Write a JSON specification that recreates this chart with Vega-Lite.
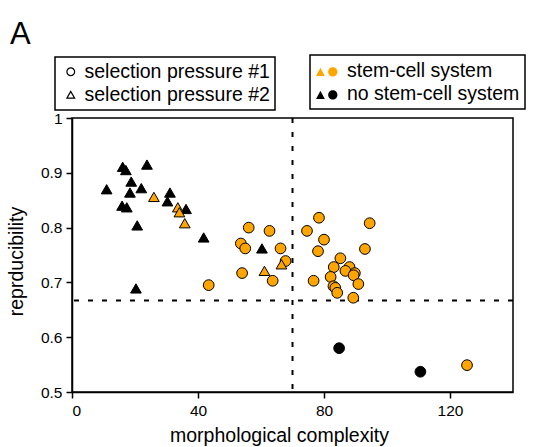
{
  "$schema": "https://vega.github.io/schema/vega-lite/v6.json",
  "width": 441,
  "height": 274,
  "autosize": {"type": "none"},
  "padding": {"left": 72, "top": 118, "right": 23, "bottom": 55},
  "background": "white",
  "config": {
    "font": "Liberation Sans",
    "view": {"stroke": "black", "strokeWidth": 1.5},
    "axis": {
      "grid": false,
      "domainColor": "black",
      "domainWidth": 1.5,
      "tickColor": "black",
      "tickWidth": 1.5,
      "tickSize": 6,
      "labelColor": "black",
      "labelFontSize": 15.5,
      "titleColor": "black",
      "titleFontSize": 19.5,
      "titleFontWeight": "normal",
      "labelPadding": 4
    },
    "legend": {
      "labelFontSize": 19.5,
      "labelColor": "black",
      "labelLimit": 400,
      "strokeColor": "black",
      "strokeWidth": 1.5,
      "padding": 5,
      "rowPadding": 2,
      "cornerRadius": 0,
      "fillColor": "white",
      "labelOffset": 9
    }
  },
  "title": {
    "text": "A",
    "fontSize": 31,
    "fontWeight": "normal",
    "font": "Liberation Sans",
    "color": "black",
    "anchor": "start",
    "frame": "group",
    "dx": -62,
    "dy": 1
  },
  "datasets": {
    "points": [
      {"complexity": 56.1, "reproducibility": 0.800, "pressure": "selection pressure #1", "system": "stem-cell system"},
      {"complexity": 62.7, "reproducibility": 0.794, "pressure": "selection pressure #1", "system": "stem-cell system"},
      {"complexity": 53.6, "reproducibility": 0.771, "pressure": "selection pressure #1", "system": "stem-cell system"},
      {"complexity": 55.0, "reproducibility": 0.762, "pressure": "selection pressure #1", "system": "stem-cell system"},
      {"complexity": 66.2, "reproducibility": 0.762, "pressure": "selection pressure #1", "system": "stem-cell system"},
      {"complexity": 67.8, "reproducibility": 0.739, "pressure": "selection pressure #1", "system": "stem-cell system"},
      {"complexity": 54.0, "reproducibility": 0.717, "pressure": "selection pressure #1", "system": "stem-cell system"},
      {"complexity": 63.7, "reproducibility": 0.703, "pressure": "selection pressure #1", "system": "stem-cell system"},
      {"complexity": 43.4, "reproducibility": 0.695, "pressure": "selection pressure #1", "system": "stem-cell system"},
      {"complexity": 78.4, "reproducibility": 0.818, "pressure": "selection pressure #1", "system": "stem-cell system"},
      {"complexity": 74.6, "reproducibility": 0.794, "pressure": "selection pressure #1", "system": "stem-cell system"},
      {"complexity": 94.5, "reproducibility": 0.808, "pressure": "selection pressure #1", "system": "stem-cell system"},
      {"complexity": 80.0, "reproducibility": 0.778, "pressure": "selection pressure #1", "system": "stem-cell system"},
      {"complexity": 78.1, "reproducibility": 0.757, "pressure": "selection pressure #1", "system": "stem-cell system"},
      {"complexity": 93.0, "reproducibility": 0.761, "pressure": "selection pressure #1", "system": "stem-cell system"},
      {"complexity": 85.2, "reproducibility": 0.744, "pressure": "selection pressure #1", "system": "stem-cell system"},
      {"complexity": 83.1, "reproducibility": 0.728, "pressure": "selection pressure #1", "system": "stem-cell system"},
      {"complexity": 88.1, "reproducibility": 0.728, "pressure": "selection pressure #1", "system": "stem-cell system"},
      {"complexity": 86.8, "reproducibility": 0.721, "pressure": "selection pressure #1", "system": "stem-cell system"},
      {"complexity": 89.8, "reproducibility": 0.717, "pressure": "selection pressure #1", "system": "stem-cell system"},
      {"complexity": 89.4, "reproducibility": 0.713, "pressure": "selection pressure #1", "system": "stem-cell system"},
      {"complexity": 82.1, "reproducibility": 0.710, "pressure": "selection pressure #1", "system": "stem-cell system"},
      {"complexity": 76.7, "reproducibility": 0.703, "pressure": "selection pressure #1", "system": "stem-cell system"},
      {"complexity": 90.9, "reproducibility": 0.697, "pressure": "selection pressure #1", "system": "stem-cell system"},
      {"complexity": 83.0, "reproducibility": 0.693, "pressure": "selection pressure #1", "system": "stem-cell system"},
      {"complexity": 83.6, "reproducibility": 0.690, "pressure": "selection pressure #1", "system": "stem-cell system"},
      {"complexity": 84.2, "reproducibility": 0.681, "pressure": "selection pressure #1", "system": "stem-cell system"},
      {"complexity": 89.3, "reproducibility": 0.672, "pressure": "selection pressure #1", "system": "stem-cell system"},
      {"complexity": 125.4, "reproducibility": 0.549, "pressure": "selection pressure #1", "system": "stem-cell system"},
      {"complexity": 84.8, "reproducibility": 0.580, "pressure": "selection pressure #1", "system": "no stem-cell system"},
      {"complexity": 110.6, "reproducibility": 0.537, "pressure": "selection pressure #1", "system": "no stem-cell system"},
      {"complexity": 16.1, "reproducibility": 0.911, "pressure": "selection pressure #2", "system": "no stem-cell system"},
      {"complexity": 17.1, "reproducibility": 0.905, "pressure": "selection pressure #2", "system": "no stem-cell system"},
      {"complexity": 23.8, "reproducibility": 0.915, "pressure": "selection pressure #2", "system": "no stem-cell system"},
      {"complexity": 11.0, "reproducibility": 0.870, "pressure": "selection pressure #2", "system": "no stem-cell system"},
      {"complexity": 18.8, "reproducibility": 0.884, "pressure": "selection pressure #2", "system": "no stem-cell system"},
      {"complexity": 18.4, "reproducibility": 0.864, "pressure": "selection pressure #2", "system": "no stem-cell system"},
      {"complexity": 22.0, "reproducibility": 0.872, "pressure": "selection pressure #2", "system": "no stem-cell system"},
      {"complexity": 31.1, "reproducibility": 0.864, "pressure": "selection pressure #2", "system": "no stem-cell system"},
      {"complexity": 30.3, "reproducibility": 0.848, "pressure": "selection pressure #2", "system": "no stem-cell system"},
      {"complexity": 15.9, "reproducibility": 0.840, "pressure": "selection pressure #2", "system": "no stem-cell system"},
      {"complexity": 17.4, "reproducibility": 0.837, "pressure": "selection pressure #2", "system": "no stem-cell system"},
      {"complexity": 20.7, "reproducibility": 0.804, "pressure": "selection pressure #2", "system": "no stem-cell system"},
      {"complexity": 36.2, "reproducibility": 0.834, "pressure": "selection pressure #2", "system": "no stem-cell system"},
      {"complexity": 41.8, "reproducibility": 0.782, "pressure": "selection pressure #2", "system": "no stem-cell system"},
      {"complexity": 20.3, "reproducibility": 0.689, "pressure": "selection pressure #2", "system": "no stem-cell system"},
      {"complexity": 60.3, "reproducibility": 0.762, "pressure": "selection pressure #2", "system": "no stem-cell system"},
      {"complexity": 26.0, "reproducibility": 0.856, "pressure": "selection pressure #2", "system": "stem-cell system"},
      {"complexity": 33.6, "reproducibility": 0.837, "pressure": "selection pressure #2", "system": "stem-cell system"},
      {"complexity": 34.1, "reproducibility": 0.828, "pressure": "selection pressure #2", "system": "stem-cell system"},
      {"complexity": 35.8, "reproducibility": 0.808, "pressure": "selection pressure #2", "system": "stem-cell system"},
      {"complexity": 66.5, "reproducibility": 0.733, "pressure": "selection pressure #2", "system": "stem-cell system"},
      {"complexity": 61.1, "reproducibility": 0.721, "pressure": "selection pressure #2", "system": "stem-cell system"}
    ]
  },
  "layer": [
    {
      "data": {"values": [{"complexity": 70}]},
      "mark": {"type": "rule", "color": "black", "strokeWidth": 2, "strokeDash": [5, 9]},
      "encoding": {
        "x": {"field": "complexity", "type": "quantitative", "scale": {"domain": [0, 140], "nice": false}}
      }
    },
    {
      "data": {"values": [{"reproducibility": 0.667}]},
      "mark": {"type": "rule", "color": "black", "strokeWidth": 2, "strokeDash": [5, 9]},
      "encoding": {
        "y": {"field": "reproducibility", "type": "quantitative", "scale": {"domain": [0.5, 1], "nice": false}}
      }
    },
    {
      "data": {"name": "points"},
      "mark": {"type": "point", "filled": true, "stroke": "black", "strokeWidth": 1, "size": 115, "opacity": 1},
      "encoding": {
        "x": {
          "field": "complexity", "type": "quantitative",
          "scale": {"domain": [0, 140], "nice": false},
          "axis": {"values": [0, 40, 80, 120], "title": "morphological complexity", "labelPadding": 5, "titlePadding": 8, "titleX": 207}
        },
        "y": {
          "field": "reproducibility", "type": "quantitative",
          "scale": {"domain": [0.5, 1], "nice": false},
          "axis": {"values": [0.5, 0.6, 0.7, 0.8, 0.9, 1], "format": ".1~f", "title": "reprducibility", "titlePadding": 14, "titleY": 143}
        },
        "shape": {
          "field": "pressure", "type": "nominal",
          "scale": {"domain": ["selection pressure #1", "selection pressure #2"], "range": ["circle", "triangle-up"]},
          "legend": {
            "orient": "none", "legendX": -17, "legendY": -61, "title": null,
            "symbolOffset": 1,
            "labelOffset": 4,
            "labelExpr": "datum.label + '\u00a0\u00a0\u00a0\u00a0'",
            "symbolSize": 60, "symbolFillColor": "white", "symbolStrokeColor": "black", "symbolStrokeWidth": 1.2
          }
        },
        "fill": {
          "field": "system", "type": "nominal",
          "scale": {"domain": ["stem-cell system", "no stem-cell system"], "range": ["#FFA500", "black"]},
          "legend": {
            "orient": "none", "legendX": 238, "legendY": -63, "title": null,
            "symbolOffset": 1,
            "labelExpr": "datum.label + '\u00a0\u00a0'",
            "symbolType": "M-1,0.45L-0.6,-0.3L-0.2,0.45Z M0.95,0.08A0.42,0.42 0 1,1 0.11,0.08A0.42,0.42 0 1,1 0.95,0.08Z",
            "symbolSize": 480, "symbolStrokeWidth": 0
          }
        }
      }
    }
  ]
}
